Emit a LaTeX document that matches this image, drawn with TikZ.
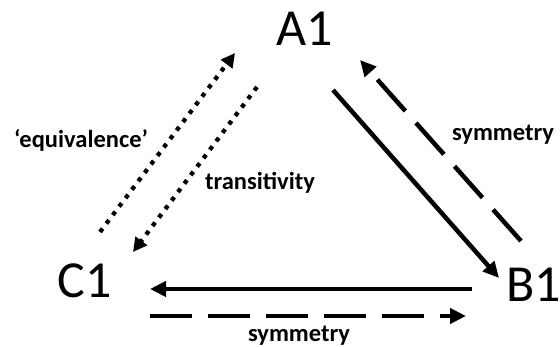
\documentclass[tikz,border=0pt]{standalone}
\usepackage{fontspec}
\setmainfont{Carlito}
\usetikzlibrary{arrows.meta}
\begin{document}
\begin{tikzpicture}[x=1pt,y=-1pt,
  vert/.style={font=\fontsize{52}{52}\selectfont, inner sep=0pt},
  lab/.style={font=\bfseries\fontsize{24.5}{24.5}\selectfont, inner sep=0pt},
  con/.style={line width=4.5pt, -{Triangle[length=16pt,width=15pt]}},
  dsh/.style={con, dash pattern=on 42pt off 16pt},
  dts/.style={con, line width=4.3pt, dash pattern=on 4.3pt off 6.3pt, -{Triangle[length=14pt,width=14pt]}}]
\useasboundingbox (0,0) rectangle (560,347);
\node[vert] (A) at (305,29) {A1};
\node[vert] (C) at (85,281) {C1};
\node[vert] (B) at (534,285) {B1};
\node[lab] (eq) at (81,140) {‘equivalence’};
\node[lab] (tr) at (260,183) {transitivity};
\node[lab] (sr) at (503,135) {symmetry};
\node[lab] (sb) at (299,336) {symmetry};
\coordinate (e1) at (100,232); \coordinate (e2) at (235,53);
\coordinate (t1) at (257,87);  \coordinate (t2) at (133,252);
\coordinate (ab1) at (333,90); \coordinate (ab2) at (499,278);
\coordinate (ba1) at (521,241); \coordinate (ba2) at (360,60);
\coordinate (bc1) at (472,289); \coordinate (bc2) at (150,289);
\coordinate (cb1) at (150,316); \coordinate (cb2) at (466,316);
\draw[dts] (e1) -- (e2);
\draw[dts] (t1) -- (t2);
\draw[con] (ab1) -- (ab2);
\draw[dsh] (ba1) -- (ba2);
\draw[con] (bc1) -- (bc2);
\draw[dsh] (cb1) -- (cb2);
\end{tikzpicture}
\end{document}
